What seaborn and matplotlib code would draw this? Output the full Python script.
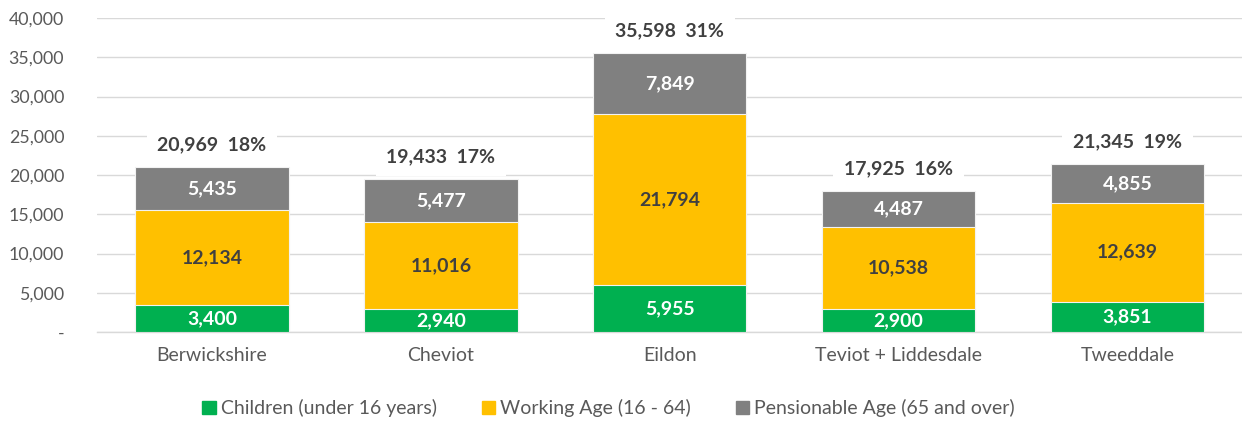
import numpy as np
import pandas as pd
import matplotlib
matplotlib.use("Agg")
import matplotlib.pyplot as plt
from matplotlib.patches import Patch
from matplotlib.ticker import FuncFormatter
import seaborn as sns

# data
areas = ["Berwickshire", "Cheviot", "Eildon", "Teviot + Liddesdale", "Tweeddale"]
children = [3400, 2940, 5955, 2900, 3851]
working = [12134, 11016, 21794, 10538, 12639]
pension = [5435, 5477, 7849, 4487, 4855]
share = ["18%", "17%", "31%", "16%", "19%"]

green = "#00B050"
yellow = "#FFC000"
grey = "#808080"
dark = "#404040"
tick_col = "#595959"

df = pd.DataFrame({"area": areas, "children": children, "working": working, "pension": pension})
df["cw"] = df["children"] + df["working"]
df["total"] = df["cw"] + df["pension"]

sns.set_style("white")
plt.rcParams["font.family"] = ["Lato", "DejaVu Sans"]

fig = plt.figure(figsize=(12.42, 4.23), dpi=100)
ax = fig.add_axes([0.0785, 0.2151, 0.9215, 0.7423])

# stacked bars: draw cumulative totals from the top segment down
w = 0.67
sns.barplot(data=df, x="area", y="total", color=grey, width=w, saturation=1,
            edgecolor="#f2f2f2", linewidth=0.8, ax=ax, zorder=2)
sns.barplot(data=df, x="area", y="cw", color=yellow, width=w, saturation=1,
            edgecolor="#f2f2f2", linewidth=0.8, ax=ax, zorder=3)
sns.barplot(data=df, x="area", y="children", color=green, width=w, saturation=1,
            edgecolor="#f2f2f2", linewidth=0.8, ax=ax, zorder=4)

ax.set_ylim(0, 40000)
ax.set_xlim(-0.5, len(areas) - 0.5)
ax.set_yticks(np.arange(0, 40001, 5000))
ax.yaxis.set_major_formatter(FuncFormatter(lambda v, p: "-" if v == 0 else f"{int(v):,}"))
ax.grid(axis="y", color="#d9d9d9", linewidth=1, zorder=0)
ax.set_axisbelow(True)
for s in ["top", "right", "left"]:
    ax.spines[s].set_visible(False)
ax.spines["bottom"].set_color("#d9d9d9")
ax.spines["bottom"].set_linewidth(1)
ax.tick_params(axis="y", length=0, labelsize=12.8, colors=tick_col, pad=24)
ax.tick_params(axis="x", length=0, labelsize=14, colors=tick_col, pad=11)
ax.set_xlabel("")
ax.set_ylabel("")

# segment labels
lab = dict(ha="center", va="center", fontsize=14, fontweight="bold", zorder=6)
for i in range(len(areas)):
    ax.text(i, children[i] / 2, f"{children[i]:,}", color="white", **lab)
    ax.text(i, children[i] + working[i] / 2, f"{working[i]:,}", color=dark, **lab)
    ax.text(i, df["cw"][i] + pension[i] / 2, f"{pension[i]:,}", color="white", **lab)
    ax.annotate(f"{df['total'][i]:,}  {share[i]}", (i, df["total"][i]), xytext=(0, 16),
                textcoords="offset points", color=dark,
                bbox=dict(boxstyle="square,pad=0.55", fc="white", ec="none"), **lab)

handles = [Patch(color=green, label="Children (under 16 years)"),
           Patch(color=yellow, label="Working Age (16 - 64)"),
           Patch(color=grey, label="Pensionable Age (65 and over)")]
leg = fig.legend(handles=handles, loc="center", bbox_to_anchor=(0.49, 0.035), ncol=3,
                 frameon=False, fontsize=14, handlelength=0.7, handleheight=0.7,
                 handletextpad=0.25, columnspacing=2.3)
for t in leg.get_texts():
    t.set_color(tick_col)

fig.savefig("out.png", dpi=100)
